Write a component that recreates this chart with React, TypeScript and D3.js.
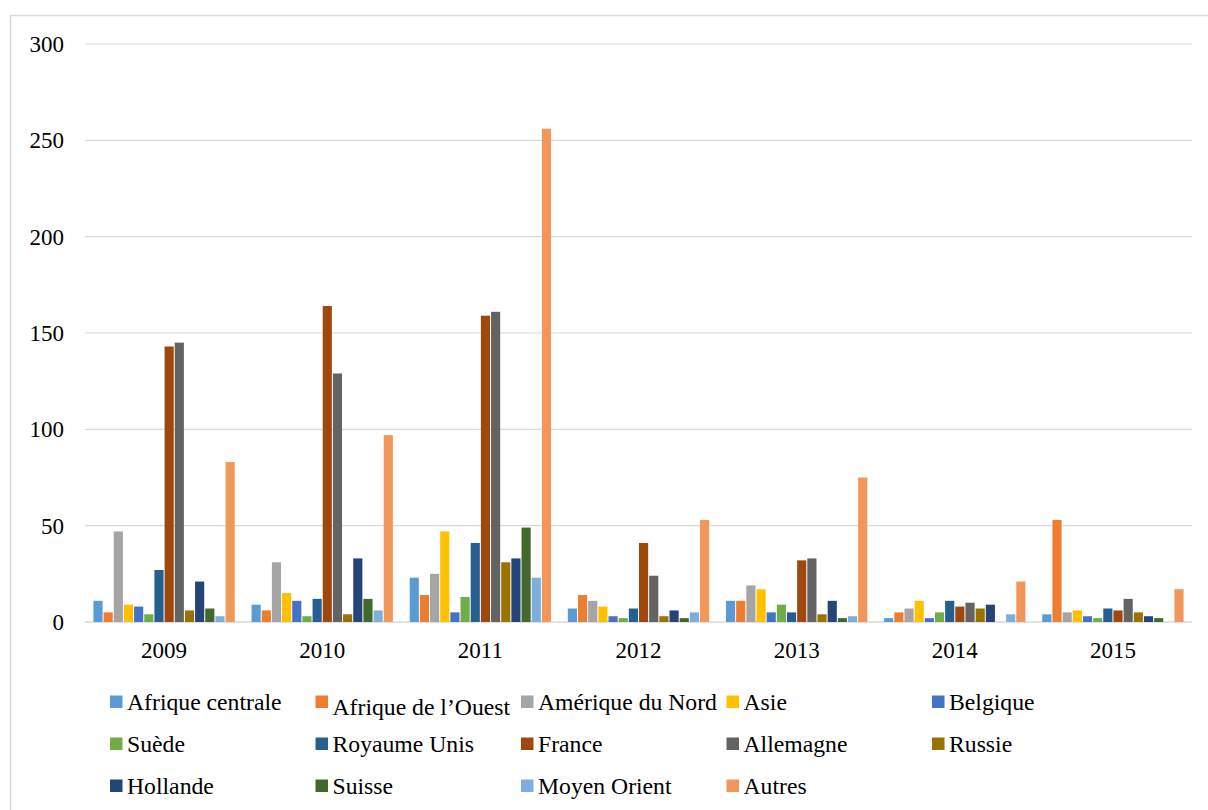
import React from "react";
import * as d3 from "d3";

const years = ["2009", "2010", "2011", "2012", "2013", "2014", "2015"];

const seriesNames = [
  "Afrique centrale",
  "Afrique de l\u2019Ouest",
  "Amérique du Nord",
  "Asie",
  "Belgique",
  "Suède",
  "Royaume Unis",
  "France",
  "Allemagne",
  "Russie",
  "Hollande",
  "Suisse",
  "Moyen Orient",
  "Autres",
];

const seriesColors = [
  "#5B9BD5",
  "#ED7D31",
  "#A5A5A5",
  "#FFC000",
  "#4472C4",
  "#70AD47",
  "#255E91",
  "#9E480E",
  "#636363",
  "#997300",
  "#264478",
  "#43682B",
  "#7CAFDD",
  "#F1975A",
];

// One row per year, one value per series (same order as seriesNames)
const values2009 = [11, 5, 47, 9, 8, 4, 27, 143, 145, 6, 21, 7, 3, 83];
const values2010 = [9, 6, 31, 15, 11, 3, 12, 164, 129, 4, 33, 12, 6, 97];
const values2011 = [23, 14, 25, 47, 5, 13, 41, 159, 161, 31, 33, 49, 23, 256];
const values2012 = [7, 14, 11, 8, 3, 2, 7, 41, 24, 3, 6, 2, 5, 53];
const values2013 = [11, 11, 19, 17, 5, 9, 5, 32, 33, 4, 11, 2, 3, 75];
const values2014 = [2, 5, 7, 11, 2, 5, 11, 8, 10, 7, 9, 0, 4, 21];
const values2015 = [4, 53, 5, 6, 3, 2, 7, 6, 12, 5, 3, 2, 0, 17];

const yTicks = [0, 50, 100, 150, 200, 250, 300];

const table = [values2009, values2010, values2011, values2012, values2013, values2014, values2015];

const W = 1208;
const H = 810;
const FONT = "'Liberation Serif', 'Times New Roman', serif";

export default function App() {
  const x0 = d3.scaleBand<string>().domain(years).range([85, 1192]).paddingInner(0.1).paddingOuter(0.05);
  const x1 = d3
    .scaleBand<string>()
    .domain(seriesNames)
    .range([0, x0.bandwidth()])
    .paddingInner(0.1)
    .paddingOuter(0.05);
  const y = d3.scaleLinear().domain([0, 300]).range([622, 44]);

  const legendCols = [110, 315.5, 521, 726.5, 932];
  const legendRows = [702, 744, 786];

  return (
    <svg
      width={W}
      height={H}
      style={{ position: "absolute", left: 0, top: 0, background: "#fff", fontFamily: FONT }}
    >
      <rect x={0} y={0} width={W} height={H} fill="#fff" />
      <rect x={10.5} y={15.5} width={W + 20} height={H + 20} fill="none" stroke="#d9d9d9" strokeWidth={1.5} />

      {/* gridlines and value labels */}
      {yTicks.map((t) => (
        <g key={t}>
          <line
            x1={85}
            x2={1192}
            y1={y(t)}
            y2={y(t)}
            stroke="#d9d9d9"
            strokeWidth={t === 0 ? 1.5 : 1.2}
          />
          <text x={64} y={y(t)} dy="0.35em" textAnchor="end" fontSize={23} fill="#000">
            {t}
          </text>
        </g>
      ))}

      {/* bars */}
      {table.map((row, yi) => (
        <g key={years[yi]} transform={`translate(${x0(years[yi])},0)`}>
          {row.map((v, si) =>
            v > 0 ? (
              <rect
                key={si}
                x={x1(seriesNames[si])}
                y={y(v)}
                width={x1.bandwidth()}
                height={y(0) - y(v)}
                fill={seriesColors[si]}
              />
            ) : null
          )}
        </g>
      ))}

      {/* year labels */}
      {years.map((yr) => (
        <text
          key={yr}
          x={(x0(yr) as number) + x0.bandwidth() / 2}
          y={658}
          textAnchor="middle"
          fontSize={23}
          fill="#000"
        >
          {yr}
        </text>
      ))}

      {/* legend */}
      {seriesNames.map((name, i) => {
        const col = i % 5;
        const row = Math.floor(i / 5);
        const sx = legendCols[col];
        const sy = legendRows[row];
        const shift = i === 1 ? 5 : 0;
        return (
          <g key={name}>
            <rect x={sx} y={sy - 6.5} width={12.5} height={12.5} fill={seriesColors[i]} />
            <text x={sx + 17} y={sy + 8 + shift} fontSize={23.7} fill="#000">
              {name}
            </text>
          </g>
        );
      })}
    </svg>
  );
}
